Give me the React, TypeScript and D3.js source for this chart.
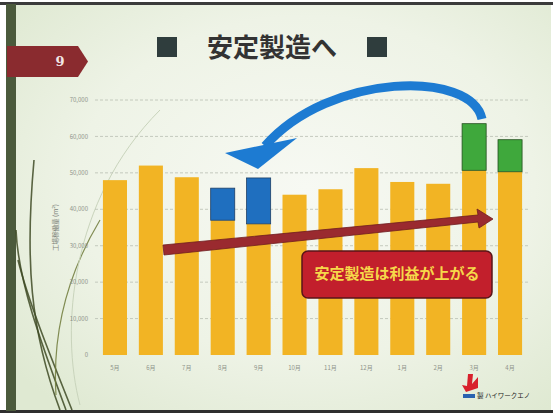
import { useEffect } from "react";
import * as d3 from "d3";

const MONTHS = ["5月", "6月", "7月", "8月", "9月", "10月", "11月", "12月", "1月", "2月", "3月", "4月"];
const BASE = [48000, 52000, 48800, 37000, 36000, 44000, 45500, 51300, 47500, 47000, 50700, 50300];
const MOVED = [0, 0, 0, 8800, 12600, 0, 0, 0, 0, 0, 0, 0];
const EXTRA = [0, 0, 0, 0, 0, 0, 0, 0, 0, 0, 12800, 8800];
const Y_TICKS = [0, 10000, 20000, 30000, 40000, 50000, 60000, 70000];

const W = 553;
const H = 418;
const FONT = "'Noto Sans CJK JP', 'Noto Sans', sans-serif";

export default function App() {
  useEffect(() => {
    document.body.style.margin = "0";
  }, []);

  const x = d3.scaleBand().domain(MONTHS).range([97, 528]).paddingInner(0.33).paddingOuter(0.165);
  const y = d3.scaleLinear().domain([0, 70000]).range([355, 100]);
  const bw = x.bandwidth();
  const fmt = d3.format(",");

  // grass-like decoration on the left
  const grass = [
    "M 60 410 C 30 330, 25 260, 34 160",
    "M 66 410 C 40 340, 18 280, 16 230",
    "M 72 410 C 48 350, 28 300, 18 260",
    "M 56 395 C 52 330, 70 270, 100 220",
  ];

  return (
    <svg width={W} height={H} style={{ display: "block" }} fontFamily={FONT}>
      <defs>
        <radialGradient id="bg" cx="0.55" cy="0.45" r="0.7">
          <stop offset="0" stopColor="#f7f9f3" />
          <stop offset="0.6" stopColor="#eef3e6" />
          <stop offset="1" stopColor="#dfe9d2" />
        </radialGradient>
      </defs>
      <rect width={W} height={H} fill="#ffffff" />
      <rect x={6} y={4} width={545} height={407} fill="url(#bg)" />
      <rect x={0} y={2} width={W} height={3} fill="#3b3b3b" />
      <rect x={0} y={410} width={W} height={3} fill="#2e2e2e" />
      <rect x={6} y={4} width={10} height={407} fill="#4b5a3c" />

      {grass.map((d, i) => (
        <path key={i} d={d} fill="none" stroke={i === 3 ? "#6f7a3a" : "#3e4a24"} strokeWidth={i === 3 ? 1.2 : 1.6} opacity={0.85} />
      ))}
      <path d="M 80 405 C 60 330, 70 200, 160 110" fill="none" stroke="#c9d4bc" strokeWidth={1} />

      {/* page marker */}
      <path d="M 7 46 L 78 46 L 88 61.5 L 78 77 L 7 77 Z" fill="#8a2b2f" />
      <text x={60} y={66} fill="#f2e6e6" fontSize={13} fontWeight={700} fontFamily="'DejaVu Serif', serif" textAnchor="middle">9</text>

      {/* title */}
      <rect x={157} y={37} width={20} height={20} fill="#2f3d3d" />
      <rect x={367} y={37} width={20} height={20} fill="#2f3d3d" />
      <text x={272} y={57} textAnchor="middle" fontSize={26} fontWeight={700} fill="#333333">安定製造へ</text>

      {/* gridlines and y axis */}
      {Y_TICKS.map((t) => (
        <g key={t}>
          {t > 0 && (
            <line x1={95} x2={530} y1={y(t)} y2={y(t)} stroke="#b9bfb3" strokeWidth={0.8} strokeDasharray="3,2" />
          )}
          <text x={88} y={y(t)} dy="0.35em" textAnchor="end" fontSize={6} fill="#8e938a">{fmt(t)}</text>
        </g>
      ))}
      <text transform={`translate(58,${y(35000)}) rotate(-90)`} textAnchor="middle" fontSize={6.5} fill="#7d8279">工場稼働量 (m²)</text>

      {/* bars */}
      {MONTHS.map((m, i) => (
        <g key={m}>
          <rect x={x(m)} y={y(BASE[i])} width={bw} height={y(0) - y(BASE[i])} fill="#f2b424" />
          {MOVED[i] > 0 && (
            <rect x={x(m)} y={y(BASE[i] + MOVED[i])} width={bw} height={y(BASE[i]) - y(BASE[i] + MOVED[i])} fill="#1f6fbf" stroke="#1d3f66" strokeWidth={0.8} />
          )}
          {EXTRA[i] > 0 && (
            <rect x={x(m)} y={y(BASE[i] + EXTRA[i])} width={bw} height={y(BASE[i]) - y(BASE[i] + EXTRA[i])} fill="#3fa83c" stroke="#24501f" strokeWidth={0.8} />
          )}
          <text x={(x(m) ?? 0) + bw / 2} y={370} textAnchor="middle" fontSize={6} fill="#8e938a">{m}</text>
        </g>
      ))}

      {/* rising red arrow */}
      <path d="M 163 245 L 478 215 L 477 209 L 493 219 L 479 228 L 478 222 L 164 255 Z" fill="#9a2a2f" stroke="#6e1d20" strokeWidth={0.8} />

      {/* callout */}
      <rect x={302} y={251} width={190} height={47} rx={6} fill="#c21f2c" stroke="#5a1518" strokeWidth={1.5} />
      <text x={397} y={279} textAnchor="middle" fontSize={15} fontWeight={700} fill="#f6d84a">安定製造は利益が上がる</text>

      {/* blue curved arrow */}
      <path d="M 482 119 C 472 70, 330 72, 265 146" fill="none" stroke="#1d7bd2" strokeWidth={9} strokeLinecap="butt" />
      <path d="M 225 153 L 297 138 L 258 169 Z" fill="#1d7bd2" />

      {/* logo */}
      <path d="M 468 374 L 473 374 L 472 384 L 478 377 L 478 388 L 466 392 L 462 385 L 467 386 Z" fill="#d8202c" />
      <rect x={463} y={394} width={12} height={4} fill="#2a62b0" />
      <text x={477} y={398} fontSize={6.5} fill="#222">製 ハイワークエノ</text>
    </svg>
  );
}
